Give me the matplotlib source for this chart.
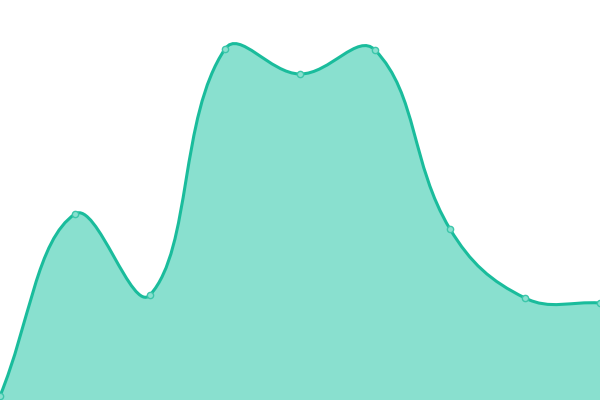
import numpy as np
import matplotlib
matplotlib.use("Agg")
import matplotlib.pyplot as plt
from matplotlib.path import Path
from matplotlib.patches import PathPatch

x_vals = [0, 1, 2, 3, 4, 5, 6, 7, 8]
y_vals = [4, 186, 105, 351, 326, 350, 171, 102, 97]

W, H = 600, 400
fig = plt.figure(figsize=(6, 4), dpi=100)
ax = fig.add_axes([0, 0, 1, 1])
ax.set_xlim(0, 8)
ax.set_ylim(0, 400)
ax.axis("off")

# pixel-space points for spline tension computation
px = np.array(x_vals, float) * 75.0
py = np.array(y_vals, float)
pts = np.column_stack([px, py])
n = len(pts)
t = 0.4
cp_prev = np.zeros_like(pts)
cp_next = np.zeros_like(pts)
for i in range(n):
    prev = pts[i - 1] if i > 0 else pts[i]
    cur = pts[i]
    nxt = pts[i + 1] if i < n - 1 else pts[i]
    d01 = np.hypot(*(cur - prev))
    d12 = np.hypot(*(nxt - cur))
    s01 = d01 / (d01 + d12) if d01 + d12 else 0
    s12 = d12 / (d01 + d12) if d01 + d12 else 0
    fa, fb = t * s01, t * s12
    cp_prev[i] = cur - fa * (nxt - prev)
    cp_next[i] = cur + fb * (nxt - prev)

def to_data(p):
    return (p[0] / 75.0, p[1])

verts = [to_data(pts[0])]
codes = [Path.MOVETO]
for i in range(n - 1):
    verts += [to_data(cp_next[i]), to_data(cp_prev[i + 1]), to_data(pts[i + 1])]
    codes += [Path.CURVE4] * 3

line_path = Path(verts, codes)
fill_verts = verts + [(x_vals[-1], 0), (x_vals[0], 0), verts[0]]
fill_codes = codes + [Path.LINETO, Path.LINETO, Path.CLOSEPOLY]
fill_path = Path(fill_verts, fill_codes)

ax.add_patch(PathPatch(fill_path, facecolor="#89e0cf", edgecolor="none", zorder=1))
ax.add_patch(PathPatch(line_path, facecolor="none", edgecolor="#1abc9c", lw=2.2, zorder=2))
ax.plot(x_vals, y_vals, "o", ms=4.5, mfc="#89e0cf", mec="#3cc6aa", mew=1, zorder=3, clip_on=False)

fig.savefig("out.png", dpi=100)
